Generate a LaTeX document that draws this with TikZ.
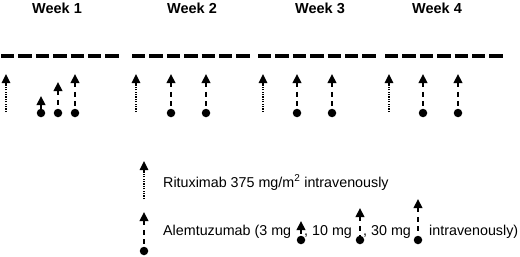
\documentclass[tikz,border=0pt]{standalone}
\usepackage{fontspec}
\setmainfont{Liberation Sans}
\usetikzlibrary{arrows.meta}
\begin{document}
\begin{tikzpicture}[x=1pt,y=-1pt,
  weekline/.style={line width=3.8pt, dash pattern=on 13.3pt off 4.1pt},
  weeklabel/.style={font=\fontsize{14.5}{17}\selectfont\bfseries, anchor=base, inner sep=0pt},
  legtext/.style={font=\fontsize{14.3}{17}\selectfont, anchor=base west, inner sep=0pt},
  rituxarrow/.style={line width=1.6pt, dash pattern=on 1.3pt off 1.1pt, -{Triangle[width=8.5pt,length=9pt]}},
  alemarrow/.style={line width=2.2pt, dash pattern=on 5pt off 4.5pt, {Triangle[width=8.5pt,length=9pt]}-},
  dosedot/.style={circle, fill, inner sep=0pt, minimum size=8.5pt},
]
\useasboundingbox (0,0) rectangle (520,257);

% week labels
\node[weeklabel] (wk1) at (57,13) {Week 1};
\node[weeklabel] (wk2) at (192,13) {Week 2};
\node[weeklabel] (wk3) at (320,13) {Week 3};
\node[weeklabel] (wk4) at (437,13) {Week 4};

% week timelines
\foreach \i/\s in {1/1,2/132,3/258,4/385}{
  \coordinate (ls\i) at (\s,56);
  \coordinate (le\i) at ({\s+117.7},56);
  \draw[weekline] (ls\i) -- (le\i);
}

% rituximab doses
\foreach \i/\x in {1/6,2/136,3/263,4/389}{
  \coordinate (rb\i) at (\x,112);
  \coordinate (rt\i) at (\x,74);
  \draw[rituxarrow] (rb\i) -- (rt\i);
}

% alemtuzumab doses, week 1 (escalating)
\foreach \n/\x/\t in {a/41/96,b/58/82,c/75/74}{
  \node[dosedot] (d1\n) at (\x,113) {};
  \coordinate (t1\n) at (\x,\t);
  \draw[alemarrow] (t1\n) -- (d1\n);
}

% alemtuzumab doses, weeks 2-4
\foreach \w/\x in {2/171,2/206,3/297,3/332,4/423,4/458}{
  \node[dosedot] (d\w-\x) at (\x,113) {};
  \coordinate (t\w-\x) at (\x,74);
  \draw[alemarrow] (t\w-\x) -- (d\w-\x);
}

% legend
\coordinate (lrb) at (144,199);
\coordinate (lrt) at (144,161);
\draw[rituxarrow] (lrb) -- (lrt);
\node[legtext] (rtext) at (163,187) {Rituximab 375 mg/m\textsuperscript{2} intravenously};

\node[dosedot] (lad) at (144,251) {};
\coordinate (lat) at (144,212);
\draw[alemarrow] (lat) -- (lad);

\node[legtext] (atext1) at (163,235) {Alemtuzumab (3 mg};
\node[legtext] (atext2) at (304,235) {, 10 mg};
\node[legtext] (atext3) at (363,235) {, 30 mg};
\node[legtext] (atext4) at (429,235) {intravenously)};

\foreach \n/\x/\t in {p/301/221,q/360/208,r/418/199}{
  \node[dosedot] (id\n) at (\x,240) {};
  \coordinate (it\n) at (\x,\t);
  \draw[alemarrow] (it\n) -- (id\n);
}
\end{tikzpicture}
\end{document}
